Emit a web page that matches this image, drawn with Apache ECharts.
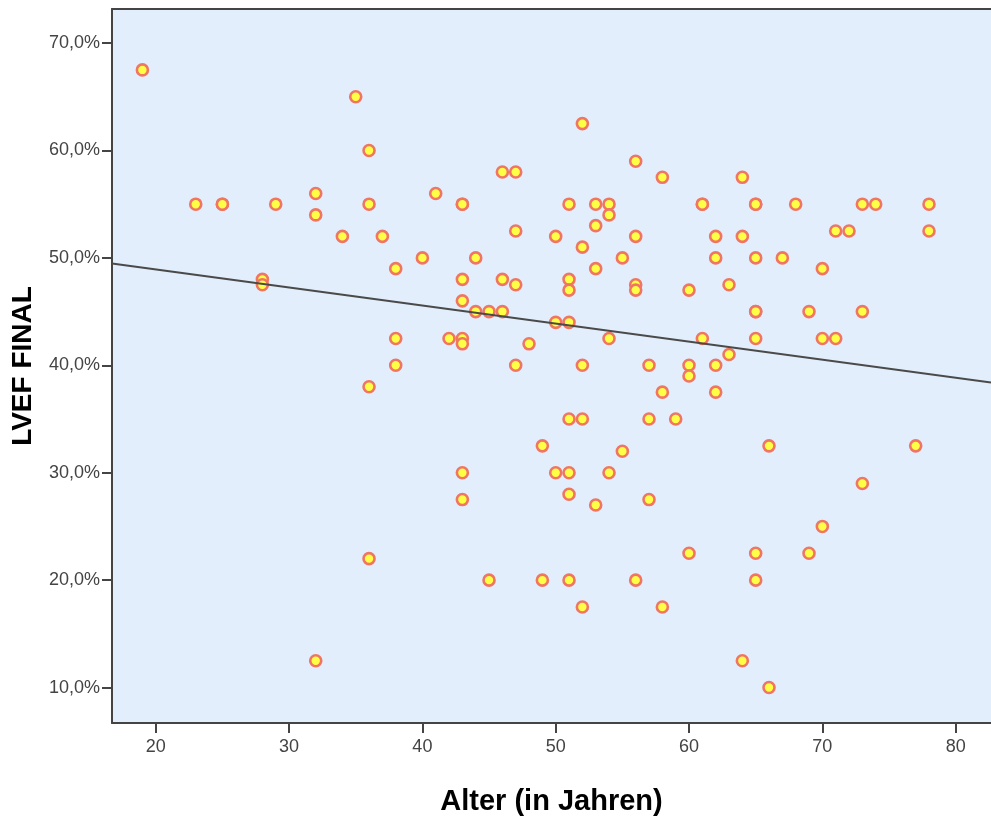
<!DOCTYPE html>
<html>
<head>
<meta charset="utf-8">
<script src="https://cdn.jsdelivr.net/npm/echarts@6/dist/echarts.min.js"></script>
<style>
html,body{margin:0;padding:0;background:#fff;}
#chart{width:991px;height:823px;}
</style>
</head>
<body>
<div id="chart"></div>
<script>
// Age (years) of each patient
const ages = [19,23,25,25,29,32,32,32,34,35,36,36,36,36,37,38,38,38,28,28,
  40,41,42,43,43,43,43,43,43,43,43,44,44,45,46,45,46,47,46,47,
  47,47,48,49,49,50,50,50,51,51,51,51,51,51,51,51,52,52,52,52,
  52,53,53,53,53,54,54,54,54,55,55,56,56,56,56,56,57,57,57,58,
  58,58,59,60,60,60,60,61,61,61,62,62,62,62,63,63,64,64,64,65,
  65,65,65,65,65,65,65,66,66,67,68,69,69,70,70,70,71,71,72,73,
  73,73,74,77,78,78];
// LVEF final (%) for each patient
const lvef = [67.5,55,55,55,55,56,54,12.5,52,65,60,55,38,22,52,49,42.5,40,48,47.5,
  50,56,42.5,55,55,48,46,42.5,42,30,27.5,50,45,45,45,20,58,58,48,47.5,
  52.5,40,42,32.5,20,52,44,30,55,48,47,44,35,30,28,20,62.5,51,40,35,
  17.5,55,53,49,27,55,54,42.5,30,50,32,59,52,47.5,47,20,40,35,27.5,57.5,
  37.5,17.5,35,47,40,39,22.5,55,55,42.5,52,50,40,37.5,47.5,41,57.5,52,12.5,55,
  55,50,45,45,42.5,22.5,20,32.5,10,50,55,45,22.5,49,42.5,25,52.5,42.5,52.5,55,
  45,29,55,32.5,55,52.5];
// Linear fit line (LVEF = intercept + slope * age)
const fitIntercept = 52.28;
const fitSlope = -0.168;
// Axis ranges and tick labels
const xRange = [16.72, 82.65];
const yRange = [6.70, 73.17];
const xTicks = [20,30,40,50,60,70,80];
const yTicks = [10,20,30,40,50,60,70];

const points = ages.map((a, i) => [a, lvef[i]]);
const fitLine = xRange.map(x => [x, fitIntercept + fitSlope * x]);

const chart = echarts.init(document.getElementById('chart'), null, {renderer: 'canvas'});
const fontFam = '"Liberation Sans", Arial, sans-serif';
chart.setOption({
  animation: false,
  backgroundColor: '#ffffff',
  grid: {
    left: 112, right: 0, top: 9, bottom: 100,
    show: true, backgroundColor: '#e2eefb', borderWidth: 0
  },
  xAxis: [{
    type: 'value',
    min: xRange[0], max: xRange[1],
    name: 'Alter (in Jahren)',
    nameLocation: 'middle',
    nameGap: 64,
    nameTextStyle: {fontSize: 29, fontWeight: 'bold', color: '#000', fontFamily: fontFam},
    axisLine: {show: true, onZero: false, lineStyle: {color: '#444', width: 2}},
    axisTick: {show: true, length: 10, customValues: xTicks, lineStyle: {color: '#444', width: 2}},
    axisLabel: {customValues: xTicks, margin: 15, fontSize: 18, color: '#444', fontFamily: fontFam},
    splitLine: {show: false}
  }, {
    type: 'value',
    position: 'top',
    min: xRange[0], max: xRange[1],
    axisLine: {show: true, onZero: false, lineStyle: {color: '#444', width: 2}},
    axisTick: {show: false},
    axisLabel: {show: false},
    splitLine: {show: false}
  }],
  yAxis: {
    type: 'value',
    min: yRange[0], max: yRange[1],
    name: 'LVEF FINAL',
    nameLocation: 'middle',
    nameRotate: 90,
    nameGap: 75,
    nameTextStyle: {fontSize: 28, fontWeight: 'bold', color: '#000', fontFamily: fontFam},
    axisLine: {show: true, onZero: false, lineStyle: {color: '#444', width: 2}},
    axisTick: {show: true, length: 10, customValues: yTicks, lineStyle: {color: '#444', width: 2}},
    axisLabel: {
      customValues: yTicks, margin: 12, fontSize: 18, color: '#444', fontFamily: fontFam,
      formatter: v => v.toFixed(1).replace('.', ',') + '%'
    },
    splitLine: {show: false}
  },
  series: [{
    type: 'scatter',
    xAxisIndex: 0,
    data: points,
    symbol: 'circle',
    symbolSize: 11,
    itemStyle: {color: '#ffff45', borderColor: '#f07563', borderWidth: 2.6, opacity: 1},
    z: 2
  }, {
    type: 'line',
    xAxisIndex: 0,
    data: fitLine,
    symbol: 'none',
    lineStyle: {color: '#4a4a4a', width: 2},
    silent: true,
    z: 3
  }]
});
</script>
</body>
</html>
